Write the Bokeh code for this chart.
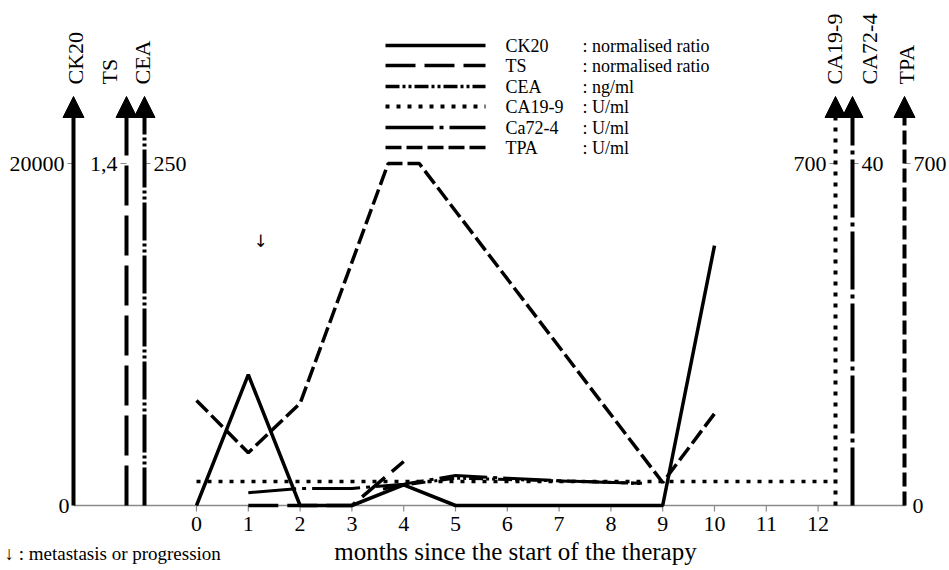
import math
from bokeh.plotting import figure
from bokeh.models import Range1d, Arrow, NormalHead
from bokeh.core.properties import value
from bokeh.embed import file_html
from bokeh.resources import INLINE

FONT = "Liberation Serif"

# ---------------- data ----------------
month_ticks = [0, 1, 2, 3, 4, 5, 6, 7, 8, 9, 10, 11, 12]

months_ck20 = [0, 1, 2, 3, 4, 5, 6, 7, 8, 9, 10]
ck20 = [0, 7650, 0, 0, 1200, 0, 0, 0, 0, 0, 15200]

months_ts = [1, 2, 3, 4]
ts = [0, 0, 0, 0.18]

months_cea = [3.6, 4, 5, 6, 7, 8, 8.6]
cea = [12, 15, 20, 19, 18, 17, 16]

months_ca199 = [0, 12.25]
ca199 = [49, 49]

months_ca724 = [1, 2, 3, 4, 5, 6, 7, 8, 8.6]
ca724 = [1.5, 2.0, 2.0, 2.5, 3.5, 3.2, 2.9, 2.7, 2.6]

months_tpa = [0, 1, 2, 3.7, 4.3, 9, 10]
tpa = [215, 108, 209, 700, 700, 47, 188]

series_names = ["CK20", "TS", "CEA", "CA19-9", "CA72-4", "TPA"]
legend_names = ["CK20", "TS", "CEA", "CA19-9", "Ca72-4", "TPA"]
legend_units = [": normalised ratio", ": normalised ratio", ": ng/ml", ": U/ml", ": U/ml", ": U/ml"]
axis_max = [20000, 1.4, 250, 700, 40, 700]
axis_max_labels = ["20000", "1,4", "250", "700", "40", "700"]

# ---------------- layout helpers (page pixels -> plot coordinates) ----------------
W, H = 949, 570
PPM = 51.8          # pixels per month
X0 = 196            # page x of month 0
YB = 505            # page y of value 0
YT = 163            # page y of axis maximum
SPAN = YB - YT

def X(px):
    return (px - X0) / PPM

def Y(py):
    return (YB - py) / SPAN

ylo, yhi = Y(H), Y(0)

p = figure(width=W, height=H, output_backend="svg", toolbar_location=None,
           x_range=Range1d(X(0), X(W)), y_range=Range1d(ylo, yhi),
           x_axis_type=None, y_axis_type=None, min_border=0)
p.outline_line_color = None
p.grid.visible = False
p.background_fill_color = "white"
p.border_fill_color = "white"

for name, mx in zip(series_names, axis_max):
    p.extra_y_ranges[name] = Range1d(ylo * mx, yhi * mx)

dash = {
    "CK20": "solid",
    "TS": "30 9",
    "CEA": "14 3 3 3 3 3",
    "CA19-9": "4 7",
    "CA72-4": "48 6 4 6",
    "TPA": "16 5",
}
axis_dash = {
    "CK20": "solid",
    "TS": "40 10",
    "CEA": "38 3 3 3 3 3",
    "CA19-9": "4 7",
    "CA72-4": "58 5 4 5",
    "TPA": "14 5",
}

GRAY = "#8a8a8a"

# baseline
p.segment(x0=[X(73)], y0=[0], x1=[X(905)], y1=[0], line_color=GRAY, line_width=1.5)

# month ticks and labels
p.segment(x0=month_ticks, y0=[0] * len(month_ticks), x1=month_ticks,
          y1=[Y(YB + 6)] * len(month_ticks), line_color=GRAY, line_width=1.2)
p.text(x=month_ticks, y=[Y(523)] * len(month_ticks), text=[str(m) for m in month_ticks],
       text_font=value(FONT), text_font_size="22px", text_align="center",
       text_baseline="middle", text_color="black")

# vertical axes with arrow heads
axis_px = [73, 126, 144, 835, 852, 904]
tick_side = [-1, -1, 1, -1, 1, 1]
label_px = [75, 109, 142, 834, 869, 906]
for name, ax, side, lx, mlab in zip(series_names, axis_px, tick_side, label_px, axis_max_labels):
    xa = X(ax)
    p.add_layout(Arrow(x_start=xa, y_start=0, x_end=xa, y_end=Y(96),
                       line_width=4, line_color="black", line_dash=axis_dash[name],
                       end=NormalHead(size=21, fill_color="black", line_color="black",
                                      line_width=1)))
    p.segment(x0=[xa], y0=[1], x1=[X(ax + side * 6)], y1=[1], line_color=GRAY, line_width=1.2)
    p.text(x=[X(ax + side * 9)], y=[1], text=[mlab], text_font=value(FONT),
           text_font_size="22px", text_align="left" if side > 0 else "right",
           text_baseline="middle", text_color="black")
    p.text(x=[X(lx)], y=[Y(84)], text=[name], angle=math.pi / 2, text_font=value(FONT),
           text_font_size="22px", text_align="left", text_baseline="middle",
           text_color="black")

# zero labels
p.text(x=[X(69)], y=[0], text=["0"], text_font=value(FONT),
       text_font_size="22px", text_align="right", text_baseline="middle", text_color="black")
p.text(x=[X(912)], y=[0], text=["0"], text_font=value(FONT),
       text_font_size="22px", text_align="left", text_baseline="middle", text_color="black")

# data lines
p.line(months_ca199, ca199, y_range_name="CA19-9", line_color="black", line_width=3.5,
       line_dash=dash["CA19-9"])
p.line(months_cea, cea, y_range_name="CEA", line_color="black", line_width=3,
       line_dash=dash["CEA"])
p.line(months_ca724, ca724, y_range_name="CA72-4", line_color="black", line_width=3,
       line_dash=dash["CA72-4"])
p.line(months_ts, ts, y_range_name="TS", line_color="black", line_width=3.5,
       line_dash=dash["TS"])
p.line(months_tpa, tpa, y_range_name="TPA", line_color="black", line_width=3.5,
       line_dash=dash["TPA"])
p.line(months_ck20, ck20, y_range_name="CK20", line_color="black", line_width=3.5)

# legend
leg_y = [45, 65, 86, 106, 127, 147]
for name, lname, unit, ly in zip(series_names, legend_names, legend_units, leg_y):
    p.line([X(385), X(485)], [Y(ly), Y(ly)], line_color="black",
           line_width=3.5 if name != "CA19-9" else 4, line_dash=dash[name])
    p.text(x=[X(505)], y=[Y(ly)], text=[lname], text_font=value(FONT), text_font_size="18px",
           text_align="left", text_baseline="middle", text_color="black")
    p.text(x=[X(582)], y=[Y(ly)], text=[unit], text_font=value(FONT), text_font_size="18px",
           text_align="left", text_baseline="middle", text_color="black")

# event marker
p.text(x=[X(260)], y=[Y(240)], text=["\u2193"], text_font=value("DejaVu Sans"),
       text_font_size="17px", text_align="center", text_baseline="middle", text_color="black")

# title and note
p.text(x=[X(515)], y=[Y(551)], text=["months since the start of the therapy"],
       text_font=value(FONT), text_font_size="25px", text_align="center",
       text_baseline="middle", text_color="black")
p.text(x=[X(4)], y=[Y(553)], text=["\u2193 : metastasis or progression"],
       text_font=value(FONT), text_font_size="19px", text_align="left",
       text_baseline="middle", text_color="black")

open("out.html", "w").write(file_html(p, INLINE))
